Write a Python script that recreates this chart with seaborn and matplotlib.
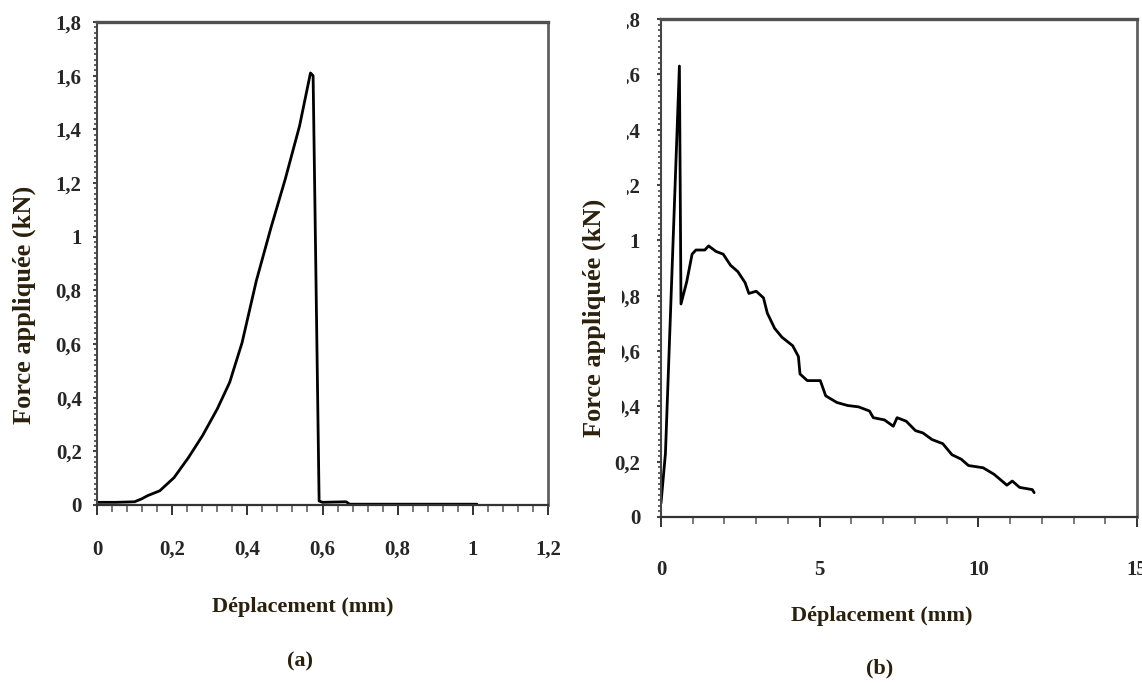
import numpy as np
import pandas as pd
import seaborn as sns
import matplotlib.pyplot as plt
from matplotlib.ticker import MultipleLocator
from matplotlib.transforms import Bbox, TransformedBbox

# (a) essai : force / deplacement
dep_a = [0.0, 0.05, 0.10, 0.119, 0.135, 0.167, 0.205, 0.243, 0.281, 0.320, 0.353,
         0.386, 0.424, 0.463, 0.501, 0.539, 0.568, 0.575, 0.591, 0.60, 0.663,
         0.672, 0.80, 1.011]
force_a = [0.01, 0.01, 0.012, 0.023, 0.035, 0.053, 0.102, 0.176, 0.259, 0.358, 0.457,
           0.605, 0.836, 1.034, 1.215, 1.413, 1.61, 1.60, 0.015, 0.01, 0.012,
           0.003, 0.003, 0.003]

# (b) essai
dep_b = [0.0, 0.14, 0.58, 0.63, 0.81, 0.98, 1.10, 1.38, 1.50, 1.73, 1.96, 2.19, 2.42,
         2.65, 2.77, 3.00, 3.23, 3.35, 3.58, 3.81, 4.15, 4.33, 4.38, 4.61, 5.02, 5.19,
         5.54, 5.88, 6.23, 6.57, 6.69, 7.04, 7.32, 7.44, 7.73, 8.02, 8.25, 8.54, 8.88,
         9.17, 9.46, 9.69, 10.15, 10.50, 10.90, 11.07, 11.30, 11.70, 11.76]
force_b = [0.05, 0.23, 1.63, 0.77, 0.85, 0.95, 0.965, 0.965, 0.98, 0.96, 0.95, 0.91,
           0.887, 0.847, 0.808, 0.816, 0.792, 0.737, 0.682, 0.65, 0.619, 0.58, 0.517,
           0.493, 0.493, 0.438, 0.414, 0.403, 0.398, 0.383, 0.359, 0.351, 0.328, 0.359,
           0.346, 0.312, 0.304, 0.28, 0.265, 0.225, 0.209, 0.186, 0.178, 0.154, 0.115,
           0.13, 0.107, 0.099, 0.088]

yticks = [0, 0.2, 0.4, 0.6, 0.8, 1.0, 1.2, 1.4, 1.6, 1.8]
ylabels = ["0", "0,2", "0,4", "0,6", "0,8", "1", "1,2", "1,4", "1,6", "1,8"]
xticks_a = [0, 0.2, 0.4, 0.6, 0.8, 1.0, 1.2]
xlabels_a = ["0", "0,2", "0,4", "0,6", "0,8", "1", "1,2"]
xticks_b = [0, 5, 10, 15]
xlabels_b = ["0", "5", "10", "15"]

df_a = pd.DataFrame({"dep": dep_a, "force": force_a})
df_b = pd.DataFrame({"dep": dep_b, "force": force_b})

sns.set_style("white")
plt.rcParams["font.family"] = ["Liberation Serif", "DejaVu Serif"]
plt.rcParams["font.weight"] = "bold"

W, H = 1142, 683
fig = plt.figure(figsize=(W / 100, H / 100), dpi=100)

def px_axes(l, t, r, b):
    return fig.add_axes([l / W, 1 - b / H, (r - l) / W, (b - t) / H])

ax1 = px_axes(97, 22, 548, 505)
ax2 = px_axes(661, 19, 1137, 517)

lab_col = "#2a200c"

for ax, df, xt, xl, xmin in [(ax1, df_a, xticks_a, xlabels_a, 0.04),
                            (ax2, df_b, xticks_b, xlabels_b, 1)]:
    sns.lineplot(data=df, x="dep", y="force", ax=ax, color="black", lw=2.0,
                 sort=False, estimator=None)
    ax.set_xlim(xt[0], xt[-1])
    ax.set_ylim(0, 1.8)
    ax.set_xticks(xt)
    ax.set_xticklabels(xl)
    ax.set_yticks(yticks)
    ax.set_yticklabels(ylabels)
    ax.xaxis.set_minor_locator(MultipleLocator(xmin))
    ax.yaxis.set_minor_locator(MultipleLocator(0.02))
    ax.tick_params(axis="x", which="both", bottom=True, direction="out")
    ax.tick_params(axis="y", which="both", left=True, direction="out")
    ax.tick_params(axis="x", which="major", length=7, width=1.4,
                   labelsize=15, color="#333333")
    ax.tick_params(axis="x", which="minor", length=5, width=1.1,
                   color="#555555")
    ax.tick_params(axis="y", which="major", length=3, width=1.5,
                   labelsize=15, color="#444444")
    ax.tick_params(axis="y", which="minor", length=2.5, width=1.3,
                   color="#555555")
    ax.spines["left"].set_color("#444444")
    ax.spines["left"].set_linewidth(1.5)
    ax.spines["bottom"].set_color("#333333")
    ax.spines["bottom"].set_linewidth(1.6)
    ax.spines["top"].set_color("#505050")
    ax.spines["top"].set_linewidth(2.4)
    ax.spines["right"].set_color("#606060")
    ax.spines["right"].set_linewidth(2.0)
    ax.set_xlabel("Déplacement (mm)", fontsize=16, fontweight="bold", color=lab_col)
    ax.set_ylabel("Force appliquée (kN)", fontsize=19, fontweight="bold", color=lab_col)
    for t in ax.get_xticklabels() + ax.get_yticklabels():
        t.set_fontweight("bold")

ax1.tick_params(axis="x", which="major", pad=18)
ax2.tick_params(axis="x", which="major", pad=24)
ax1.tick_params(axis="y", which="major", pad=8)
ax2.tick_params(axis="y", which="major", pad=12)

ax1.xaxis.set_label_coords(0.457, -0.211)
ax1.xaxis.label.set_va("center")
ax1.yaxis.set_label_coords(-0.162, 0.414)
ax1.yaxis.label.set_va("center")
ax2.xaxis.set_label_coords(0.463, -0.199)
ax2.xaxis.label.set_va("center")
ax2.yaxis.set_label_coords(-0.141, 0.40)
ax2.yaxis.label.set_va("center")

fig.text(300 / W, 1 - 661 / H, "(a)", ha="center", va="center", fontsize=16,
         fontweight="bold", color=lab_col)
fig.text(880 / W, 1 - 668 / H, "(b)", ha="center", va="center", fontsize=16,
         fontweight="bold", color=lab_col)

# la figure (b) est rognee a gauche : le premier chiffre des graduations manque
clip_haut = TransformedBbox(Bbox([[627 / W, 0], [1, 1]]), fig.transFigure)
clip_bas = TransformedBbox(Bbox([[622 / W, 0], [1, 1]]), fig.transFigure)
for val, t in zip(yticks, ax2.get_yticklabels()):
    if val >= 1.2:
        t.set_clip_box(clip_haut)
        t.set_clip_on(True)
    elif val >= 0.4:
        t.set_clip_box(clip_bas)
        t.set_clip_on(True)

fig.savefig("out.png", dpi=100, facecolor="white")
